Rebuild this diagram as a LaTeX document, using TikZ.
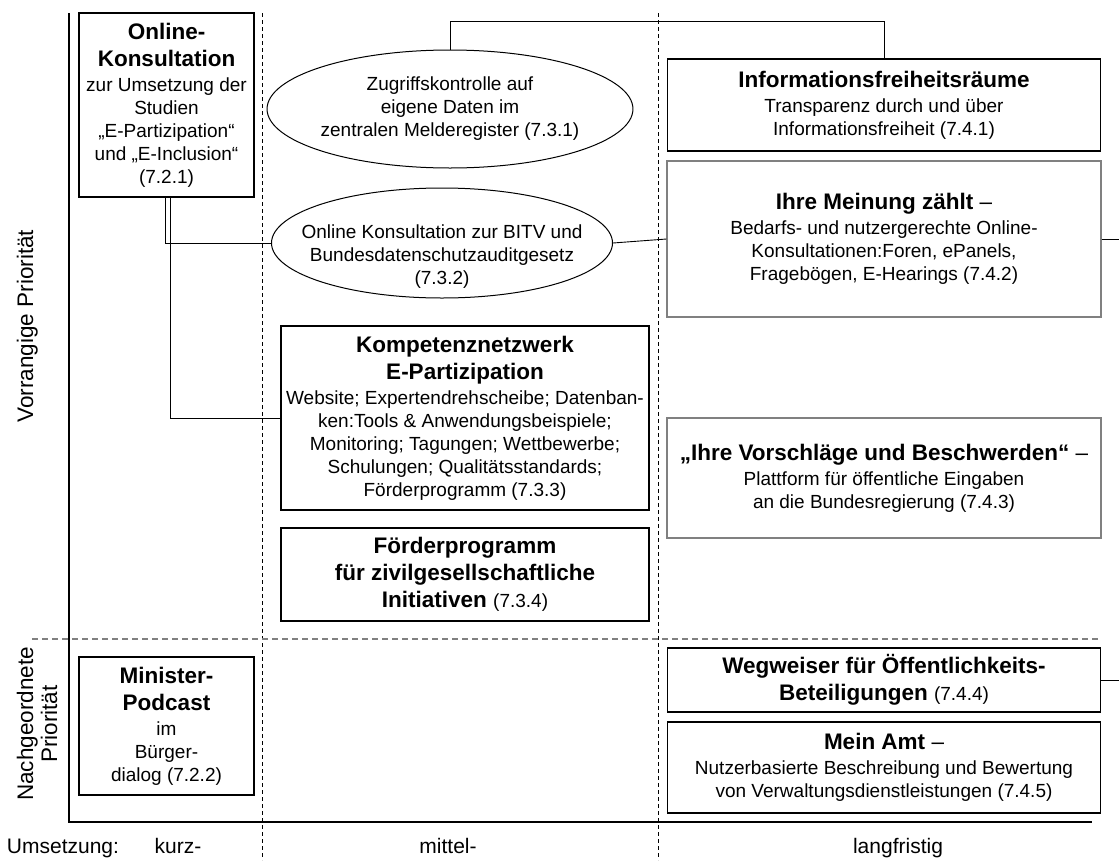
\documentclass[tikz,border=0pt]{standalone}
\usepackage{fontspec}
\setmainfont{Liberation Sans}
\usetikzlibrary{shapes.geometric}
\newcommand\boxtitle{\fontsize{22.5}{27}\selectfont\bfseries}
\newcommand\boxbody{\fontsize{19}{23}\selectfont}
\definecolor{framegray}{RGB}{128,128,128}
\tikzset{
  prio_node/.style = {align=center, inner sep=0pt, text centered,
    font=\boxbody},
  prio_box/.style = {prio_node, rectangle, draw=black, line width=1.1pt,
    fill=white},
  prio_gbox/.style = {prio_node, rectangle, draw=framegray, line width=1.6pt,
    fill=white},
  prio_ell/.style = {prio_node, ellipse, draw=black, line width=1pt},
  conn/.style = {line width=0.9pt},
  axis_lbl/.style = {inner sep=0pt, font=\fontsize{22.5}{24}\selectfont},
  time_lbl/.style = {inner sep=0pt, font=\fontsize{21}{24}\selectfont}
}
\begin{document}
\begin{tikzpicture}[x=1pt, y=-1pt]
  \useasboundingbox (0,0) rectangle (1119,860);
  % grid
  \foreach \gx in {262.5,658}
    \draw[dash pattern=on 4pt off 3pt, line width=0.8pt] (\gx,13) -- (\gx,860);
  \draw[framegray, dash pattern=on 6pt off 4pt, line width=1.2pt] (32,639) -- (1101,639);
  \draw[line width=1.2pt] (69,13) -- (69,822) -- (1092,822);
  % axis texts
  \node[axis_lbl, rotate=90, anchor=base] (vorrang) at (33,326) {Vorrangige Priorität};
  \node[axis_lbl, rotate=90, align=center] (nachgeord) at (37,724) {Nachgeordnete\\Priorität};
  \node[time_lbl, anchor=base] (umsetzung) at (63,853) {Umsetzung:};
  \node[time_lbl, anchor=base] (kurz) at (178,853) {kurz-};
  \node[time_lbl, anchor=base] (mittel) at (448,853) {mittel-};
  \node[time_lbl, anchor=base] (lang) at (898,853) {langfristig};
  % kurzfristig
  \node[prio_box, minimum width=175pt, minimum height=184pt] (online) at (166.5,105)
    {\boxtitle Online-\\[4pt] \boxtitle Konsultation\\[2pt] zur Umsetzung der\\Studien\\
     „E-Partizipation“\\und „E-Inclusion“\\(7.2.1)};
  \node[prio_box, minimum width=175pt, minimum height=138pt] (minister) at (166.5,726)
    {\boxtitle Minister-\\[4pt] \boxtitle Podcast\\[2pt] im\\Bürger-\\dialog (7.2.2)};
  % mittelfristig
  \node[prio_ell, minimum width=341pt, minimum height=118pt] (zugriff) at (450,109)
    {Zugriffskontrolle auf\\eigene Daten im\\zentralen Melderegister (7.3.1)};
  \node[prio_ell, minimum width=341pt, minimum height=110pt] (bitv) at (442,243) {};
  \node[prio_node] (bitv_txt) at (442,257)
    {Online Konsultation zur BITV und\\Bundesdatenschutzauditgesetz\\(7.3.2)};
  \node[prio_box, minimum width=368pt, minimum height=184pt] (komp) at (465,418)
    {\boxtitle Kompetenznetzwerk\\[4pt] \boxtitle E-Partizipation\\[2pt]
     Website; Expertendrehscheibe; Datenban-\\ken:Tools \& Anwendungsbeispiele;\\
     Monitoring; Tagungen; Wettbewerbe;\\Schulungen; Qualitätsstandards;\\
     Förderprogramm (7.3.3)};
  \node[prio_box, minimum width=368pt, minimum height=93pt] (foerder) at (465,574.5)
    {\boxtitle Förderprogramm\\[4pt] \boxtitle für zivilgesellschaftliche\\[4pt]
     \boxtitle Initiativen \fontsize{19}{23}\selectfont\mdseries(7.3.4)};
  % langfristig
  \node[prio_box, minimum width=433.5pt, minimum height=92pt] (info) at (884,105)
    {\boxtitle Informationsfreiheitsräume\\[2pt] Transparenz durch und über\\
     Informationsfreiheit (7.4.1)};
  \node[prio_gbox, minimum width=433.5pt, minimum height=156pt] (meinung) at (884,239)
    {\boxtitle Ihre Meinung zählt \mdseries–\\[2pt]
     Bedarfs- und nutzergerechte Online-\\Konsultationen:Foren, ePanels,\\
     Fragebögen, E-Hearings (7.4.2)};
  \node[prio_gbox, minimum width=433.5pt, minimum height=120pt] (vorschlag) at (884,478)
    {\boxtitle „Ihre Vorschläge und Beschwerden“ \mdseries–\\[2pt]
     Plattform für öffentliche Eingaben\\an die Bundesregierung (7.4.3)};
  \node[prio_box, minimum width=433.5pt, minimum height=64pt] (wegweiser) at (884,680)
    {\boxtitle Wegweiser für Öffentlichkeits-\\[4pt]
     \boxtitle Beteiligungen \fontsize{19}{23}\selectfont\mdseries(7.4.4)};
  \node[prio_box, minimum width=433.5pt, minimum height=91pt] (meinamt) at (884,767.5)
    {\boxtitle Mein Amt \mdseries–\\[2pt] Nutzerbasierte Beschreibung und Bewertung\\
     von Verwaltungsdienstleistungen (7.4.5)};
  % connectors
  \coordinate (top_bend) at (450,21);
  \coordinate (out_meinung) at (1119,239);
  \coordinate (out_weg) at (1119,680);
  \draw[conn] (zugriff.north) -- (top_bend) -| (info.north);
  \draw[conn] ([xshift=-1pt]online.south) |- (bitv.west);
  \draw[conn] ([xshift=4pt]online.south) |- (komp.west);
  \draw[conn] (bitv.east) -- (meinung.west);
  \draw[conn] (meinung.east) -- (out_meinung);
  \draw[conn] (wegweiser.east) -- (out_weg);
\end{tikzpicture}
\end{document}
